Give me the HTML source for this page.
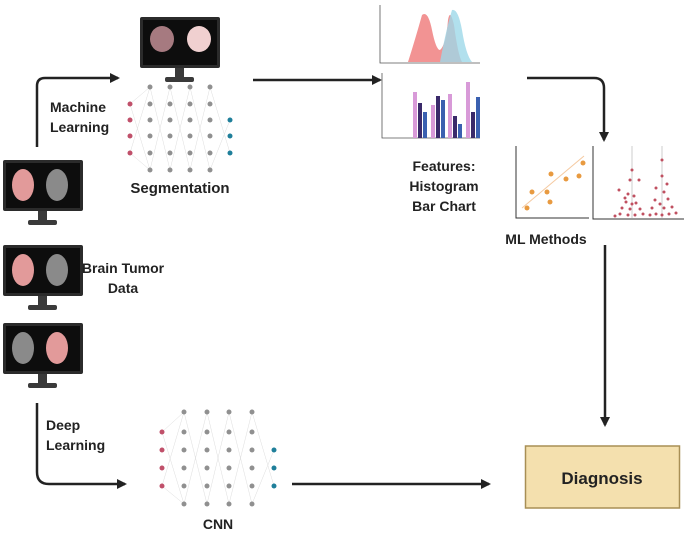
<!DOCTYPE html>
<html><head><style>body{margin:0;background:#fff}svg{display:block}text{font-family:"Liberation Sans",sans-serif;font-weight:bold;fill:#222}</style></head>
<body>
<svg width="685" height="536" viewBox="0 0 685 536" xmlns="http://www.w3.org/2000/svg">
<defs>
<g id="mon">
<rect x="0" y="0" width="80" height="51" rx="2" fill="#2b2b2b"/>
<rect x="3" y="3" width="74" height="45" fill="#0d0d0d"/>
<rect x="35" y="51" width="9" height="11" fill="#3a3a3a"/>
<rect x="25" y="60" width="29" height="5" rx="2" fill="#3a3a3a"/>
</g>
<marker id="ah" markerWidth="10" markerHeight="10" refX="8" refY="5" orient="auto" markerUnits="userSpaceOnUse"><path d="M0,0 L10,5 L0,10 z" fill="#222"/></marker>
</defs>
<use href="#mon" x="3" y="160"/>
<ellipse cx="23" cy="185" rx="11" ry="16" fill="#e29a9a"/><ellipse cx="57" cy="185" rx="11" ry="16" fill="#8a8a8a"/>
<use href="#mon" x="3" y="245"/>
<ellipse cx="23" cy="270" rx="11" ry="16" fill="#e29a9a"/><ellipse cx="57" cy="270" rx="11" ry="16" fill="#8a8a8a"/>
<use href="#mon" x="3" y="323"/>
<ellipse cx="23" cy="348" rx="11" ry="16" fill="#8a8a8a"/><ellipse cx="57" cy="348" rx="11" ry="16" fill="#e29a9a"/>
<use href="#mon" x="140" y="17"/>
<ellipse cx="162" cy="39" rx="12" ry="13" fill="#a67a80"/><ellipse cx="199" cy="39" rx="12" ry="13" fill="#f0d0d0"/>
<path d="M37,147 V86 Q37,78 45,78 H118" fill="none" stroke="#222" stroke-width="2.5" marker-end="url(#ah)"/>
<text x="50" y="112" font-size="14">Machine</text>
<text x="50" y="132" font-size="14">Learning</text>
<g stroke="#ddd" stroke-width="0.5">
<path d="M130,104 L150,87 M130,104 L150,170 M130,153 L150,87 M130,153 L150,170 M150,87 L170,170 M150,170 L170,87 M170,87 L190,170 M170,170 L190,87 M190,87 L210,170 M190,170 L210,87 M210,87 L230,153 M210,170 L230,120"/>
</g>
<g fill="#909090">
<circle cx="150" cy="87" r="2.5"/><circle cx="170" cy="87" r="2.5"/><circle cx="190" cy="87" r="2.5"/><circle cx="210" cy="87" r="2.5"/>
<circle cx="150" cy="104" r="2.5"/><circle cx="170" cy="104" r="2.5"/><circle cx="190" cy="104" r="2.5"/><circle cx="210" cy="104" r="2.5"/>
<circle cx="150" cy="120" r="2.5"/><circle cx="170" cy="120" r="2.5"/><circle cx="190" cy="120" r="2.5"/><circle cx="210" cy="120" r="2.5"/>
<circle cx="150" cy="136" r="2.5"/><circle cx="170" cy="136" r="2.5"/><circle cx="190" cy="136" r="2.5"/><circle cx="210" cy="136" r="2.5"/>
<circle cx="150" cy="153" r="2.5"/><circle cx="170" cy="153" r="2.5"/><circle cx="190" cy="153" r="2.5"/><circle cx="210" cy="153" r="2.5"/>
<circle cx="150" cy="170" r="2.5"/><circle cx="170" cy="170" r="2.5"/><circle cx="190" cy="170" r="2.5"/><circle cx="210" cy="170" r="2.5"/>
</g>
<g fill="#c0506a"><circle cx="130" cy="104" r="2.5"/><circle cx="130" cy="120" r="2.5"/><circle cx="130" cy="136" r="2.5"/><circle cx="130" cy="153" r="2.5"/></g>
<g fill="#1f7f9a"><circle cx="230" cy="120" r="2.5"/><circle cx="230" cy="136" r="2.5"/><circle cx="230" cy="153" r="2.5"/></g>
<text x="180" y="193" font-size="15" text-anchor="middle">Segmentation</text>
<line x1="253" y1="80" x2="380" y2="80" stroke="#222" stroke-width="2.5" marker-end="url(#ah)"/>
<path d="M380,5 V63 H480" fill="none" stroke="#555" stroke-width="0.8"/>
<path d="M408,62 Q415,40 422,15 Q428,10 432,30 Q436,50 440,50 Q446,45 448,20 Q450,8 454,25 Q458,55 462,62 Z" fill="#f08080" opacity="0.85"/>
<path d="M440,62 Q446,30 452,10 Q458,8 462,30 Q466,55 472,62 Z" fill="#9ed8e8" opacity="0.8"/>
<path d="M382,73 V138 H480" fill="none" stroke="#555" stroke-width="0.8"/>
<g fill="#d89ad8"><rect x="413" y="92" width="4" height="46"/><rect x="431" y="105" width="4" height="33"/><rect x="448" y="94" width="4" height="44"/><rect x="466" y="82" width="4" height="56"/></g>
<g fill="#3a2a6a"><rect x="418" y="103" width="4" height="35"/><rect x="436" y="96" width="4" height="42"/><rect x="453" y="116" width="4" height="22"/><rect x="471" y="112" width="4" height="26"/></g>
<g fill="#3a60b0"><rect x="423" y="112" width="4" height="26"/><rect x="441" y="100" width="4" height="38"/><rect x="458" y="124" width="4" height="14"/><rect x="476" y="97" width="4" height="41"/></g>
<text x="444" y="171" font-size="14" text-anchor="middle">Features:</text>
<text x="444" y="191" font-size="14" text-anchor="middle">Histogram</text>
<text x="444" y="211" font-size="14" text-anchor="middle">Bar Chart</text>
<path d="M527,78 H594 Q604,78 604,88 V140" fill="none" stroke="#222" stroke-width="2.5" marker-end="url(#ah)"/>
<path d="M516,146 V218 H589" fill="none" stroke="#333" stroke-width="1"/>
<line x1="522" y1="208" x2="584" y2="156" stroke="#f5c9a0" stroke-width="1"/>
<g fill="#e89a40"><circle cx="527" cy="208" r="2.5"/><circle cx="532" cy="192" r="2.5"/><circle cx="547" cy="192" r="2.5"/><circle cx="551" cy="174" r="2.5"/><circle cx="550" cy="202" r="2.5"/><circle cx="566" cy="179" r="2.5"/><circle cx="579" cy="176" r="2.5"/><circle cx="583" cy="163" r="2.5"/></g>
<path d="M593,146 V219 H684" fill="none" stroke="#333" stroke-width="1"/>
<line x1="632" y1="146" x2="632" y2="218" stroke="#ccc"/><line x1="662" y1="146" x2="662" y2="218" stroke="#ccc"/>
<g fill="#c05060">
<circle cx="632" cy="170" r="1.5"/><circle cx="630" cy="180" r="1.5"/><circle cx="639" cy="180" r="1.5"/><circle cx="619" cy="190" r="1.5"/><circle cx="628" cy="194" r="1.5"/><circle cx="634" cy="196" r="1.5"/><circle cx="626" cy="202" r="1.5"/><circle cx="636" cy="203" r="1.5"/><circle cx="622" cy="208" r="1.5"/><circle cx="630" cy="209" r="1.5"/><circle cx="640" cy="209" r="1.5"/><circle cx="620" cy="214" r="1.5"/><circle cx="628" cy="215" r="1.5"/><circle cx="635" cy="215" r="1.5"/><circle cx="643" cy="214" r="1.5"/><circle cx="615" cy="216" r="1.5"/><circle cx="632" cy="204" r="1.5"/><circle cx="625" cy="198" r="1.5"/>
<circle cx="662" cy="160" r="1.5"/><circle cx="662" cy="176" r="1.5"/><circle cx="667" cy="184" r="1.5"/><circle cx="656" cy="188" r="1.5"/><circle cx="664" cy="192" r="1.5"/><circle cx="655" cy="200" r="1.5"/><circle cx="668" cy="199" r="1.5"/><circle cx="660" cy="204" r="1.5"/><circle cx="652" cy="208" r="1.5"/><circle cx="664" cy="208" r="1.5"/><circle cx="672" cy="207" r="1.5"/><circle cx="656" cy="214" r="1.5"/><circle cx="662" cy="215" r="1.5"/><circle cx="669" cy="214" r="1.5"/><circle cx="676" cy="213" r="1.5"/><circle cx="650" cy="215" r="1.5"/>
</g>
<text x="546" y="244" font-size="14" text-anchor="middle">ML Methods</text>
<line x1="605" y1="245" x2="605" y2="425" stroke="#222" stroke-width="2.5" marker-end="url(#ah)"/>
<rect x="525.5" y="446" width="154" height="62" fill="#f4e0ae" stroke="#a88f55" stroke-width="1.5"/>
<text x="602" y="484" font-size="17" text-anchor="middle" fill="#1a1a1a">Diagnosis</text>
<text x="123" y="273" font-size="14" text-anchor="middle">Brain Tumor</text>
<text x="123" y="293" font-size="14" text-anchor="middle">Data</text>
<path d="M37,403 V472 Q37,484 49,484 H125" fill="none" stroke="#222" stroke-width="2.5" marker-end="url(#ah)"/>
<text x="46" y="430" font-size="14">Deep</text>
<text x="46" y="450" font-size="14">Learning</text>
<g stroke="#ddd" stroke-width="0.5">
<path d="M162,432 L184,412 M162,432 L184,504 M162,486 L184,412 M162,486 L184,504 M184,412 L207,504 M184,504 L207,412 M207,412 L229,504 M207,504 L229,412 M229,412 L252,504 M229,504 L252,412 M252,412 L274,486 M252,504 L274,450"/>
</g>
<g fill="#909090">
<circle cx="184" cy="412" r="2.5"/><circle cx="207" cy="412" r="2.5"/><circle cx="229" cy="412" r="2.5"/><circle cx="252" cy="412" r="2.5"/>
<circle cx="184" cy="432" r="2.5"/><circle cx="207" cy="432" r="2.5"/><circle cx="229" cy="432" r="2.5"/><circle cx="252" cy="432" r="2.5"/>
<circle cx="184" cy="450" r="2.5"/><circle cx="207" cy="450" r="2.5"/><circle cx="229" cy="450" r="2.5"/><circle cx="252" cy="450" r="2.5"/>
<circle cx="184" cy="468" r="2.5"/><circle cx="207" cy="468" r="2.5"/><circle cx="229" cy="468" r="2.5"/><circle cx="252" cy="468" r="2.5"/>
<circle cx="184" cy="486" r="2.5"/><circle cx="207" cy="486" r="2.5"/><circle cx="229" cy="486" r="2.5"/><circle cx="252" cy="486" r="2.5"/>
<circle cx="184" cy="504" r="2.5"/><circle cx="207" cy="504" r="2.5"/><circle cx="229" cy="504" r="2.5"/><circle cx="252" cy="504" r="2.5"/>
</g>
<g fill="#c0506a"><circle cx="162" cy="432" r="2.5"/><circle cx="162" cy="450" r="2.5"/><circle cx="162" cy="468" r="2.5"/><circle cx="162" cy="486" r="2.5"/></g>
<g fill="#1f7f9a"><circle cx="274" cy="450" r="2.5"/><circle cx="274" cy="468" r="2.5"/><circle cx="274" cy="486" r="2.5"/></g>
<text x="218" y="529" font-size="14" text-anchor="middle">CNN</text>
<line x1="292" y1="484" x2="489" y2="484" stroke="#222" stroke-width="2.5" marker-end="url(#ah)"/>
</svg>
</body></html>
